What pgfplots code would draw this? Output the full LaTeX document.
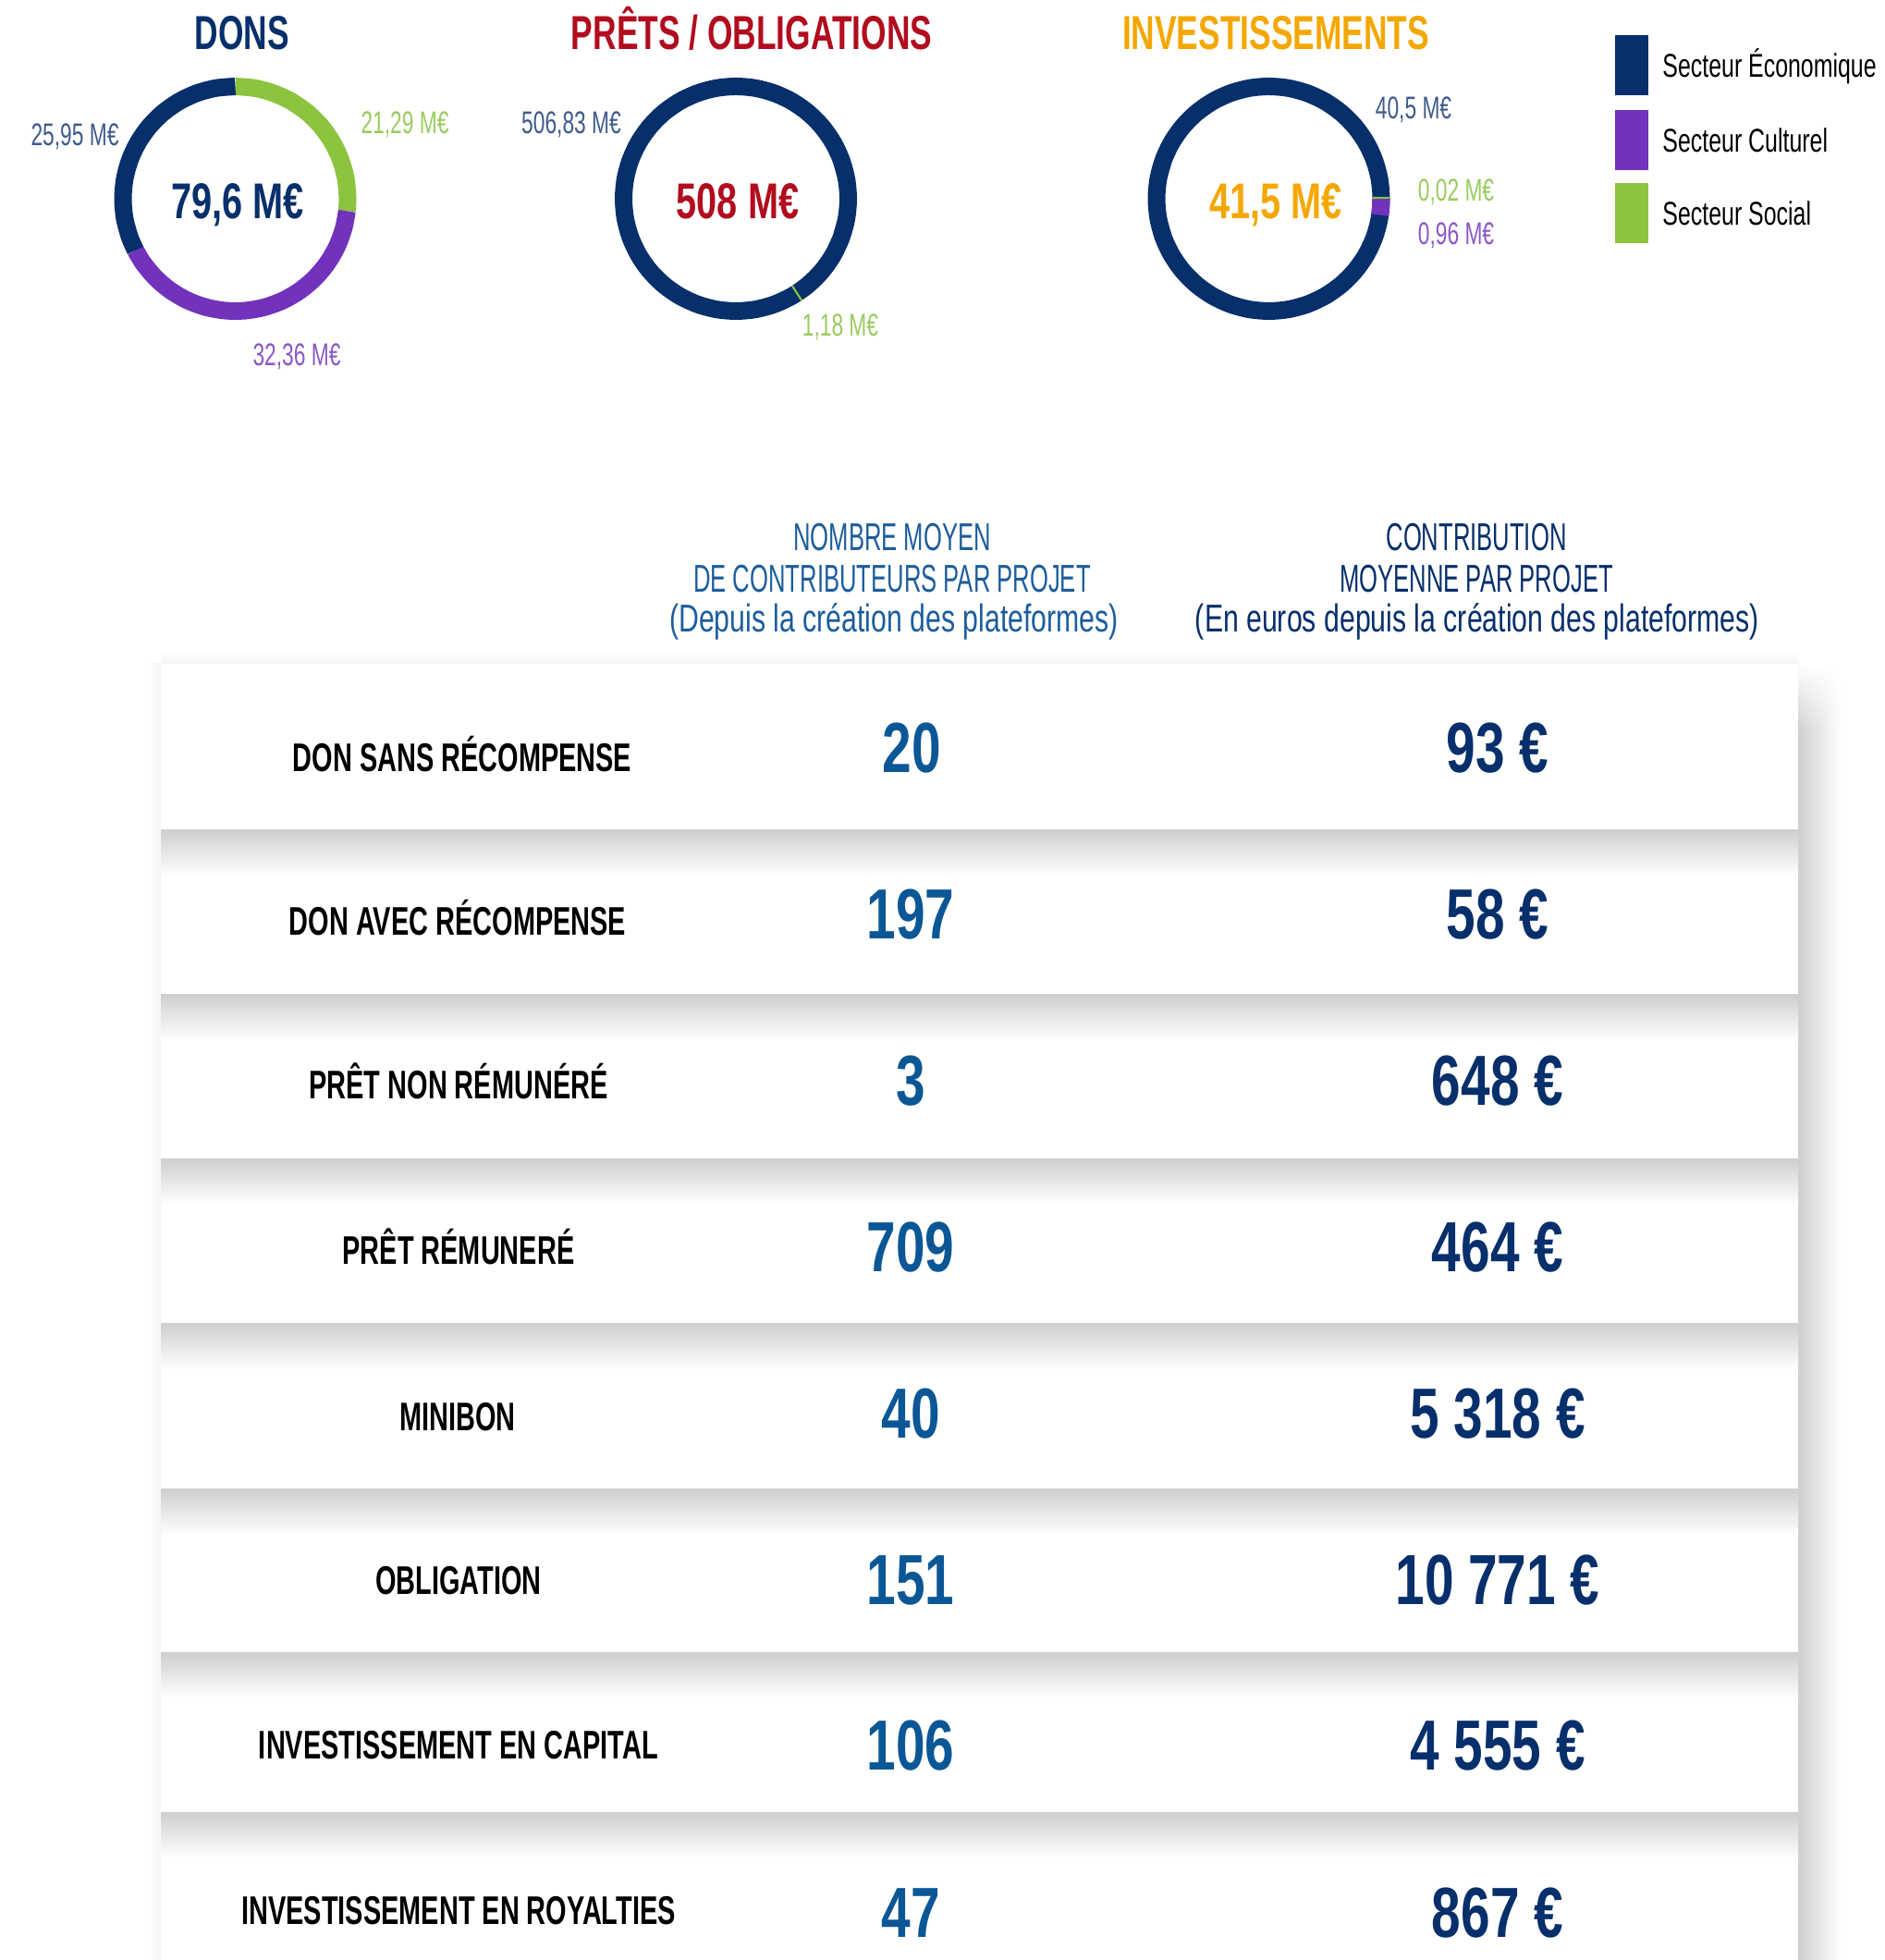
\documentclass[border=0pt]{standalone}
\usepackage{fontspec}
\setmainfont{Liberation Sans}
\newfontfamily\fTitle[FakeStretch=0.685]{Liberation Sans}
\newfontfamily\fCenter[FakeStretch=0.73]{Liberation Sans}
\newfontfamily\fSmall[FakeStretch=0.67]{Liberation Sans}
\newfontfamily\fLeg[FakeStretch=0.70]{Liberation Sans}
\newfontfamily\fHc[FakeStretch=0.61]{Liberation Sans}
\newfontfamily\fHl[FakeStretch=0.72]{Liberation Sans}
\newfontfamily\fLab[FakeStretch=0.67]{Liberation Sans}
\newfontfamily\fNum[FakeStretch=0.74]{Liberation Sans}
\usepackage{pgfplots}
\pgfplotsset{compat=1.18}
\usepgfplotslibrary{polar}
\usetikzlibrary{fadings}

\definecolor{cnavy}{HTML}{062F6B}
\definecolor{cgreen}{HTML}{8CC43F}
\definecolor{cpurple}{HTML}{7232BC}
\definecolor{cred}{HTML}{B10D1E}
\definecolor{corange}{HTML}{F4A700}
\definecolor{lnavy}{HTML}{3F5A8C}
\definecolor{lgreen}{HTML}{9ACB5E}
\definecolor{lpurple}{HTML}{8A57C6}
\definecolor{cblue}{HTML}{0B5796}
\definecolor{hblue}{HTML}{1C5D9C}

\tikzset{
  ttl/.style={anchor=base, inner sep=0pt, font=\fTitle\bfseries\fontsize{25.8pt}{30pt}\selectfont},
  ctr/.style={anchor=base, inner sep=0pt, font=\fCenter\bfseries\fontsize{27.2pt}{32pt}\selectfont},
  sml/.style={anchor=base, inner sep=0pt, font=\fSmall\fontsize{17pt}{20pt}\selectfont},
  leg/.style={anchor=base west, inner sep=0pt, font=\fLeg\fontsize{17.8pt}{21pt}\selectfont},
  hdc/.style={anchor=base, inner sep=0pt, font=\fHc\fontsize{21pt}{25pt}\selectfont},
  hdl/.style={anchor=base, inner sep=0pt, font=\fHl\fontsize{21pt}{25pt}\selectfont},
  lab/.style={anchor=base, inner sep=0pt, font=\fLab\bfseries\fontsize{21.6pt}{26pt}\selectfont},
  num/.style={anchor=base, inner sep=0pt, font=\fNum\bfseries\fontsize{38.4pt}{44pt}\selectfont},
  ring/.style={no markers, smooth, line width=9.5pt},
}

\begin{document}
\begin{tikzpicture}
\begin{axis}[at={(0,0)}, anchor=south west, width=1019.5pt, height=1060pt,
  scale only axis, hide axis, xmin=0, xmax=2039, ymin=0, ymax=2120,
  y dir=reverse, clip=false]
% ---- table shadows
\shade[top color=white, bottom color=black!4] (axis cs:174,704) rectangle (axis cs:1945,717);
\shade[left color=white, right color=black!4] (axis cs:160,717) rectangle (axis cs:174,2120);
\shade[left color=black!19, middle color=black!7, right color=white, path fading=north] (axis cs:1945,718) rectangle (axis cs:1992,790);
\shade[left color=black!19, middle color=black!7, right color=white] (axis cs:1945,789) rectangle (axis cs:1992,2120);
\shade[top color=black!19, middle color=black!6, bottom color=white] (axis cs:174,897) rectangle (axis cs:1945,947);
\shade[top color=black!19, middle color=black!6, bottom color=white] (axis cs:174,1075) rectangle (axis cs:1945,1125);
\shade[top color=black!19, middle color=black!6, bottom color=white] (axis cs:174,1253) rectangle (axis cs:1945,1303);
\shade[top color=black!19, middle color=black!6, bottom color=white] (axis cs:174,1431) rectangle (axis cs:1945,1481);
\shade[top color=black!19, middle color=black!6, bottom color=white] (axis cs:174,1610) rectangle (axis cs:1945,1660);
\shade[top color=black!19, middle color=black!6, bottom color=white] (axis cs:174,1787) rectangle (axis cs:1945,1837);
\shade[top color=black!19, middle color=black!6, bottom color=white] (axis cs:174,1960) rectangle (axis cs:1945,2010);

% ---- titles
\node[ttl, text=cnavy] at (axis cs:262,54) {DONS};
\node[ttl, text=cred] at (axis cs:813,54) {PRÊTS / OBLIGATIONS};
\node[ttl, text=corange] at (axis cs:1380,54) {INVESTISSEMENTS};
% ---- donut centres
\coordinate (d1) at (axis cs:254.5,215);
\coordinate (d2) at (axis cs:796,215);
\coordinate (d3) at (axis cs:1372.5,215);
\node[ctr, text=cnavy] at (axis cs:257,236) {79,6 M€};
\node[ctr, text=cred] at (axis cs:798,236) {508 M€};
\node[ctr, text=corange] at (axis cs:1380,236) {41,5 M€};
% ---- donut value labels
\node[sml, text=lnavy] at (axis cs:81,157) {25,95 M€};
\node[sml, text=lgreen] at (axis cs:438,144) {21,29 M€};
\node[sml, text=lpurple] at (axis cs:321,395) {32,36 M€};
\node[sml, text=lnavy] at (axis cs:618,144) {506,83 M€};
\node[sml, text=lgreen] at (axis cs:909,363) {1,18 M€};
\node[sml, text=lnavy] at (axis cs:1529,128) {40,5 M€};
\node[sml, text=lgreen] at (axis cs:1575,217) {0,02 M€};
\node[sml, text=lpurple] at (axis cs:1575,264) {0,96 M€};
% ---- legend
\fill[cnavy] (axis cs:1747,38) rectangle (axis cs:1783,103);
\fill[cpurple] (axis cs:1747,119) rectangle (axis cs:1783,184);
\fill[cgreen] (axis cs:1747,198) rectangle (axis cs:1783,263);
\node[leg] at (axis cs:1798,83) {Secteur Économique};
\node[leg] at (axis cs:1798,164) {Secteur Culturel};
\node[leg] at (axis cs:1798,243) {Secteur Social};
% ---- table header
\node[hdc, text=hblue] at (axis cs:965,595) {NOMBRE MOYEN};
\node[hdc, text=hblue] at (axis cs:965,640) {DE CONTRIBUTEURS PAR PROJET};
\node[hdl, text=hblue] at (axis cs:967,683) {(Depuis la création des plateformes)};
\node[hdc, text=cnavy] at (axis cs:1597,595) {CONTRIBUTION};
\node[hdc, text=cnavy] at (axis cs:1597,640) {MOYENNE PAR PROJET};
\node[hdl, text=cnavy] at (axis cs:1598,683) {(En euros depuis la création des plateformes)};
% ---- table rows
\node[lab] at (axis cs:500,834) {DON SANS RÉCOMPENSE};
\node[lab] at (axis cs:495,1011) {DON AVEC RÉCOMPENSE};
\node[lab] at (axis cs:496,1188) {PRÊT NON RÉMUNÉRÉ};
\node[lab] at (axis cs:496,1367) {PRÊT RÉMUNERÉ};
\node[lab] at (axis cs:495,1547) {MINIBON};
\node[lab] at (axis cs:496,1724) {OBLIGATION};
\node[lab] at (axis cs:496,1902) {INVESTISSEMENT EN CAPITAL};
\node[lab] at (axis cs:496,2081) {INVESTISSEMENT EN ROYALTIES};
\node[num, text=cblue] at (axis cs:986,835) {20};
\node[num, text=cblue] at (axis cs:985,1015) {197};
\node[num, text=cblue] at (axis cs:985,1195) {3};
\node[num, text=cblue] at (axis cs:985,1375) {709};
\node[num, text=cblue] at (axis cs:985,1555) {40};
\node[num, text=cblue] at (axis cs:985,1735) {151};
\node[num, text=cblue] at (axis cs:985,1914) {106};
\node[num, text=cblue] at (axis cs:985,2095) {47};
\node[num, text=cnavy] at (axis cs:1620,835) {93 €};
\node[num, text=cnavy] at (axis cs:1620,1015) {58 €};
\node[num, text=cnavy] at (axis cs:1620,1195) {648 €};
\node[num, text=cnavy] at (axis cs:1620,1375) {464 €};
\node[num, text=cnavy] at (axis cs:1620,1555) {5 318 €};
\node[num, text=cnavy] at (axis cs:1620,1735) {10 771 €};
\node[num, text=cnavy] at (axis cs:1620,1914) {4 555 €};
\node[num, text=cnavy] at (axis cs:1620,2095) {867 €};
\end{axis}

% ---- DONS: 21.29 (social), 32.36 (culturel), 25.95 (economique); total 79.6
\begin{polaraxis}[at={(d1)}, anchor=origin, width=121.5pt, height=121.5pt,
  scale only axis, hide axis, ymin=0, ymax=1, clip=false]
\addplot[ring, color=cgreen] coordinates {(90,1) (80,1) (70,1) (60,1) (50,1) (40,1) (30,1) (20,1) (10,1) (0,1) (-6.29,1)};
\addplot[ring, color=cpurple] coordinates {(-6.29,1) (-15,1) (-25,1) (-35,1) (-45,1) (-55,1) (-65,1) (-75,1) (-85,1) (-95,1) (-105,1) (-115,1) (-125,1) (-135,1) (-145,1) (-152.64,1)};
\addplot[ring, color=cnavy] coordinates {(-152.64,1) (-160,1) (-170,1) (-180,1) (-190,1) (-200,1) (-210,1) (-220,1) (-230,1) (-240,1) (-250,1) (-260,1) (-270,1)};
\end{polaraxis}

% ---- PRETS: 506.83 (economique), 1.18 (social); total 508
\begin{polaraxis}[at={(d2)}, anchor=origin, width=121.5pt, height=121.5pt,
  scale only axis, hide axis, ymin=0, ymax=1, clip=false]
\addplot[ring, color=cnavy] coordinates {(-20,1) (-10,1) (0,1) (10,1) (20,1) (30,1) (40,1) (50,1) (60,1) (70,1) (80,1) (90,1) (100,1) (110,1) (120,1) (130,1) (140,1) (150,1) (160,1) (170,1) (180,1) (190,1) (200,1) (210,1) (220,1) (230,1) (240,1) (250,1) (260,1) (270,1) (280,1) (290,1) (300,1) (310,1) (320,1) (330,1) (340,1) (350,1) (360,1) (370,1) (380,1)};
\addplot[ring, smooth=false, color=cgreen] coordinates {(-56.6,1) (-57.6,1)};
\end{polaraxis}

% ---- INVESTISSEMENTS: 40.5 (economique), 0.96 (culturel), 0.02 (social); total 41.5
\begin{polaraxis}[at={(d3)}, anchor=origin, width=121.5pt, height=121.5pt,
  scale only axis, hide axis, ymin=0, ymax=1, clip=false]
\addplot[ring, color=cnavy] coordinates {(-200,1) (-190,1) (-180,1) (-170,1) (-160,1) (-150,1) (-140,1) (-130,1) (-120,1) (-110,1) (-100,1) (-90,1) (-80,1) (-70,1) (-60,1) (-50,1) (-40,1) (-30,1) (-20,1) (-10,1) (0,1) (10,1) (20,1) (30,1) (40,1) (50,1) (60,1) (70,1) (80,1) (90,1) (100,1) (110,1) (120,1) (130,1) (140,1) (150,1) (160,1) (170,1) (180,1) (190,1) (200,1)};
\addplot[ring, color=cpurple] coordinates {(0,1) (-4.2,1) (-8.33,1)};
\addplot[ring, color=cgreen] coordinates {(1.0,1) (0,1)};
\end{polaraxis}

\pgfresetboundingbox
\path[use as bounding box] (0,0) rectangle (1019.5pt,1060pt);
\end{tikzpicture}
\end{document}
